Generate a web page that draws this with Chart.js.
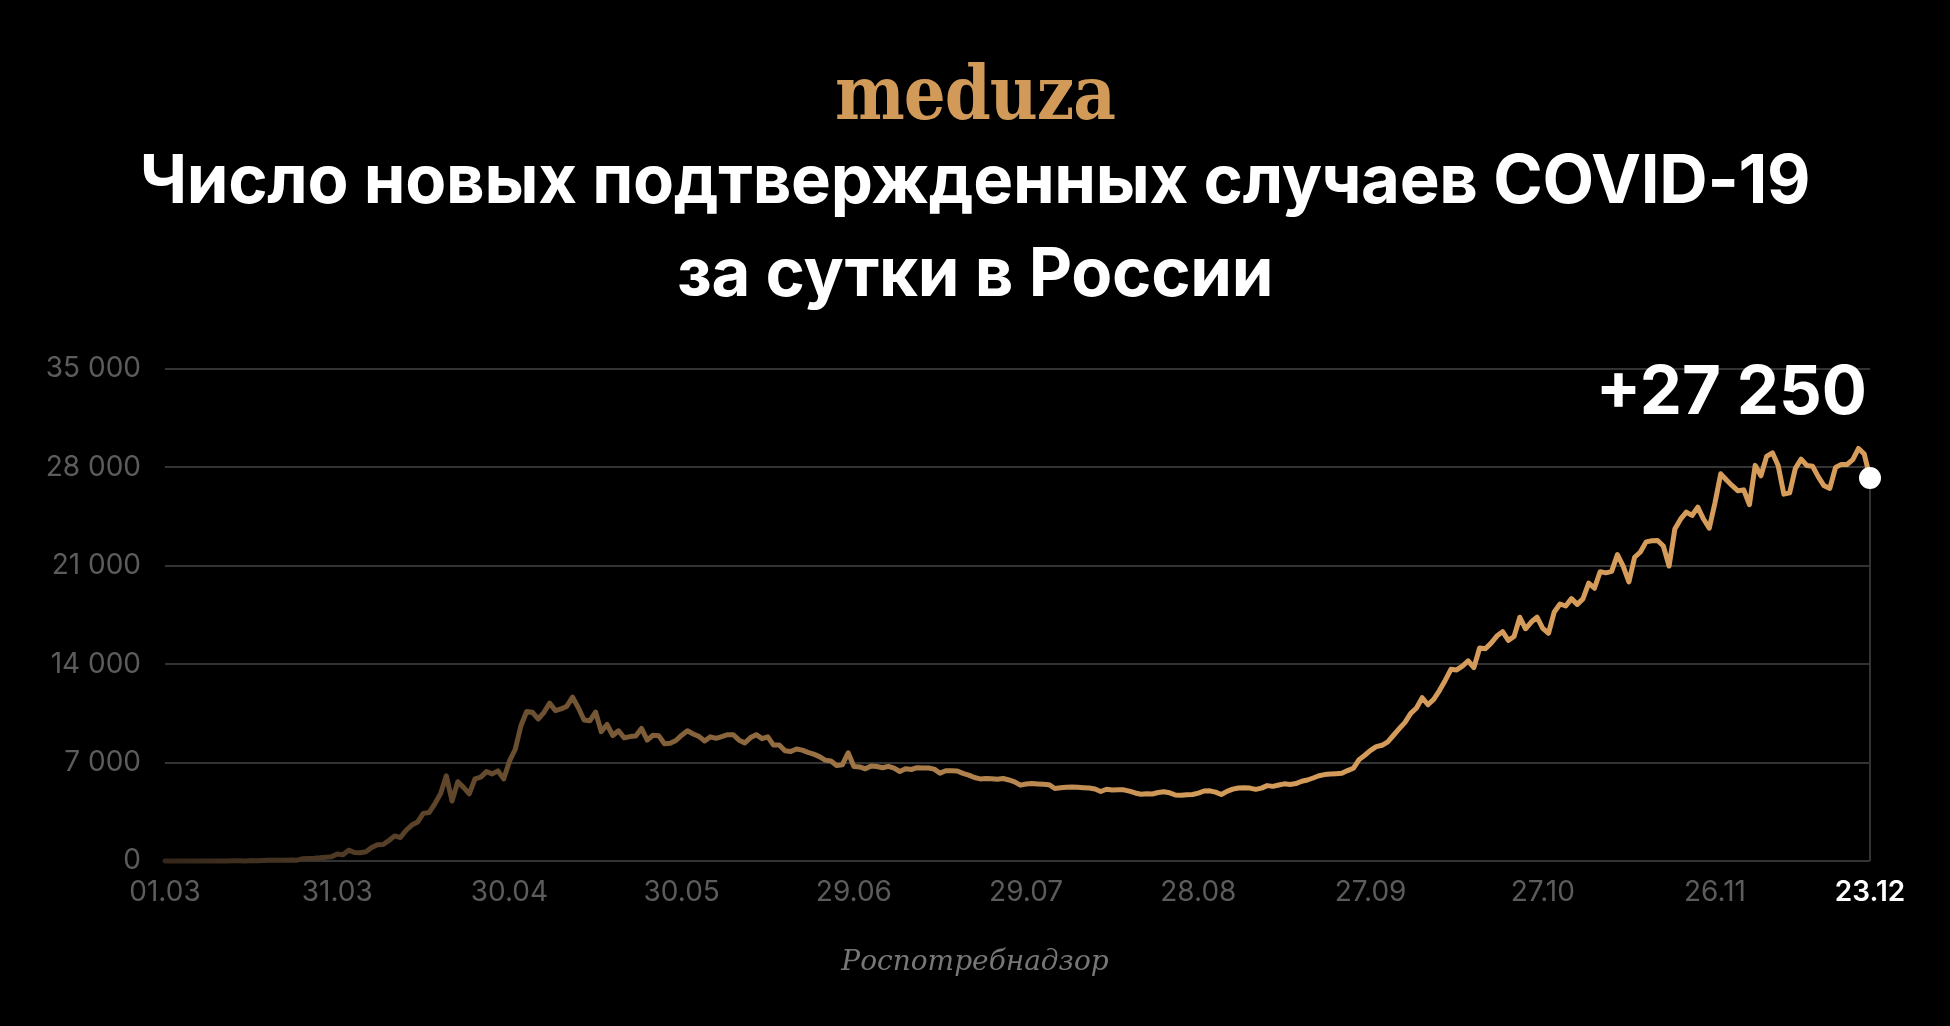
<!DOCTYPE html>
<html lang="ru">
<head>
<meta charset="utf-8">
<title>Число новых подтвержденных случаев COVID-19 за сутки в России</title>
<script src="https://cdn.jsdelivr.net/npm/chart.js@4.4.1/dist/chart.umd.min.js"></script>
<style>
  html, body { margin: 0; padding: 0; background: #000; }
  body { width: 1950px; height: 1026px; position: relative; overflow: hidden; font-family: Inter, sans-serif; }
  #chart { position: absolute; left: 0; top: 0; }
  .logo { position: absolute; left: 0; width: 1950px; top: 60px; text-align: center; color: #d19a59; font: 700 66px/66px "DejaVu Serif", serif; letter-spacing: -1px; transform: scaleY(1.12); }
  .title { position: absolute; left: 0; width: 1950px; top: 132px; text-align: center; color: #fff; font: 700 67px/93px Inter, sans-serif; letter-spacing: -0.3px; }
  .last { position: absolute; right: 83px; top: 356px; color: #fff; font: 700 67px/67px Inter, sans-serif; }
  .source { position: absolute; left: 0; width: 1950px; top: 947px; text-align: center; color: #777; font: italic 28px/28px "DejaVu Serif", serif; }
</style>
</head>
<body>
<canvas id="chart" width="1950" height="1026"></canvas>
<div class="logo">meduza</div>
<div class="title">Число новых подтвержденных случаев COVID-19<br>за сутки в России</div>
<div class="last">+27 250</div>
<div class="source">Роспотребнадзор</div>
<script>
// New confirmed cases per day, 2020 (one array per month)
var march = [0, 1, 0, 0, 1, 6, 4, 3, 0, 3, 8, 6, 11, 14, 4, 30, 21, 33, 52, 54, 53, 61, 71, 57, 163, 182, 196, 228, 270, 302, 501];
var april = [440, 771, 601, 582, 658, 954, 1154, 1175, 1459, 1786, 1667, 2186, 2558, 2774, 3388, 3448, 4070, 4785, 6060, 4268, 5642, 5236, 4774, 5849, 5966, 6361, 6198, 6411, 5841, 7099];
var may = [7933, 9623, 10633, 10581, 10102, 10559, 11231, 10699, 10817, 11012, 11656, 10899, 10028, 9974, 10598, 9200, 9709, 8926, 9263, 8764, 8849, 8894, 9434, 8599, 8946, 8915, 8338, 8371, 8572, 8952, 9268];
var june = [9035, 8863, 8536, 8831, 8726, 8855, 8984, 8985, 8595, 8404, 8779, 8987, 8706, 8835, 8246, 8248, 7843, 7790, 7972, 7889, 7728, 7600, 7425, 7176, 7113, 6800, 6852, 7700, 6719, 6693];
var july = [6556, 6760, 6718, 6632, 6736, 6611, 6368, 6562, 6509, 6635, 6615, 6611, 6537, 6248, 6422, 6428, 6406, 6234, 6109, 5940, 5842, 5862, 5848, 5811, 5871, 5765, 5635, 5395, 5475, 5509, 5482];
var august = [5462, 5427, 5159, 5204, 5241, 5267, 5241, 5212, 5189, 5118, 4945, 5102, 5057, 5065, 5061, 4969, 4839, 4748, 4790, 4767, 4870, 4921, 4852, 4696, 4676, 4711, 4730, 4829, 4980, 4993, 4897];
var september = [4729, 4952, 5110, 5195, 5205, 5185, 5099, 5185, 5363, 5310, 5406, 5488, 5449, 5509, 5670, 5762, 5905, 6065, 6148, 6196, 6215, 6234, 6431, 6595, 7212, 7523, 7867, 8135, 8232, 8481];
var october = [8945, 9412, 9859, 10499, 10888, 11615, 11115, 11493, 12126, 12846, 13634, 13592, 13868, 14231, 13754, 15150, 15099, 15500, 16000, 16319, 15700, 15971, 17340, 16521, 17000, 17347, 16550, 16202, 17717, 18283, 18140];
var november = [18665, 18257, 18648, 19768, 19404, 20582, 20498, 20600, 21798, 20977, 19851, 21608, 21983, 22702, 22778, 22800, 22410, 20985, 23610, 24318, 24822, 24581, 25173, 24326, 23675, 25487, 27543, 27100, 26700, 26338];
var december = [26402, 25345, 28145, 27403, 28782, 29039, 28137, 26097, 26190, 27927, 28585, 28137, 28080, 27328, 26689, 26509, 28000, 28214, 28209, 28552, 29350, 28948, 27250];

// x axis: day number since 01.03 and the label shown there
var tickDays = [0, 30, 60, 90, 120, 150, 180, 210, 240, 270, 297];
var tickLabels = ['01.03', '31.03', '30.04', '30.05', '29.06', '29.07', '28.08', '27.09', '27.10', '26.11', '23.12'];
var yTicks = [0, 7000, 14000, 21000, 28000, 35000];

var values = march.concat(april, may, june, july, august, september, october, november, december);
var points = values.map(function (v, i) { return { x: i, y: v }; });
var last = values.length - 1;

// thin vertical line from the last point down to the axis
var lastMarker = {
    id: 'lastMarker',
    beforeDatasetsDraw: function (chart) {
        var ctx = chart.ctx;
        var x = chart.scales.x.getPixelForValue(last);
        ctx.save();
        ctx.strokeStyle = '#333333';
        ctx.lineWidth = 2;
        ctx.beginPath();
        ctx.moveTo(x, chart.scales.y.getPixelForValue(values[last]));
        ctx.lineTo(x, chart.scales.y.getPixelForValue(0));
        ctx.stroke();
        ctx.restore();
    }
};

// dark brown on the left fading into gold
function lineGradient(context) {
    var chart = context.chart;
    var area = chart.chartArea;
    if (!area) return '#d39b5a';
    var g = chart.ctx.createLinearGradient(area.left, 0, area.right, 0);
    g.addColorStop(0, '#33261a');
    g.addColorStop(0.6, '#d39b5a');
    g.addColorStop(1, '#d69c5a');
    return g;
}

var ctx = document.getElementById('chart').getContext('2d');
var myChart = new Chart(ctx, {
    type: 'line',
    data: {
        datasets: [{
            data: points,
            borderColor: lineGradient,
            borderWidth: 5,
            borderJoinStyle: 'round',
            borderCapStyle: 'round',
            tension: 0,
            fill: false,
            clip: false,
            pointRadius: function (c) { return c.dataIndex === last ? 11 : 0; },
            pointBackgroundColor: '#ffffff',
            pointBorderWidth: 0
        }]
    },
    options: {
        responsive: false,
        animation: false,
        devicePixelRatio: 1,
        events: [],
        layout: { padding: { top: 369, right: 80, left: 0, bottom: 0 } },
        plugins: {
            legend: { display: false },
            tooltip: { enabled: false }
        },
        scales: {
            x: {
                type: 'linear',
                min: 0,
                max: last,
                afterBuildTicks: function (s) { s.ticks = tickDays.map(function (d) { return { value: d }; }); },
                afterFit: function (s) { s.height = 165; },
                grid: { display: false },
                border: { display: false },
                ticks: {
                    autoSkip: false,
                    maxRotation: 0,
                    padding: 7,
                    callback: function (v, i) { return tickLabels[i]; },
                    color: function (c) { return c.index === tickLabels.length - 1 ? '#ffffff' : '#5c5c5c'; },
                    font: function (c) {
                        return { family: 'Inter', size: 28, weight: c.index === tickLabels.length - 1 ? '600' : '400' };
                    }
                }
            },
            y: {
                min: 0,
                max: 35000,
                afterBuildTicks: function (s) { s.ticks = yTicks.map(function (v) { return { value: v }; }); },
                afterFit: function (s) { s.width = 165; },
                grid: { color: '#333333', lineWidth: 2, drawTicks: false },
                border: { display: false },
                ticks: {
                    padding: 24,
                    color: '#5c5c5c',
                    font: { family: 'Inter', size: 28 },
                    callback: function (v) { return v === 0 ? '0' : (v / 1000) + ' 000'; }
                }
            }
        }
    },
    plugins: [lastMarker]
});
</script>
</body>
</html>
